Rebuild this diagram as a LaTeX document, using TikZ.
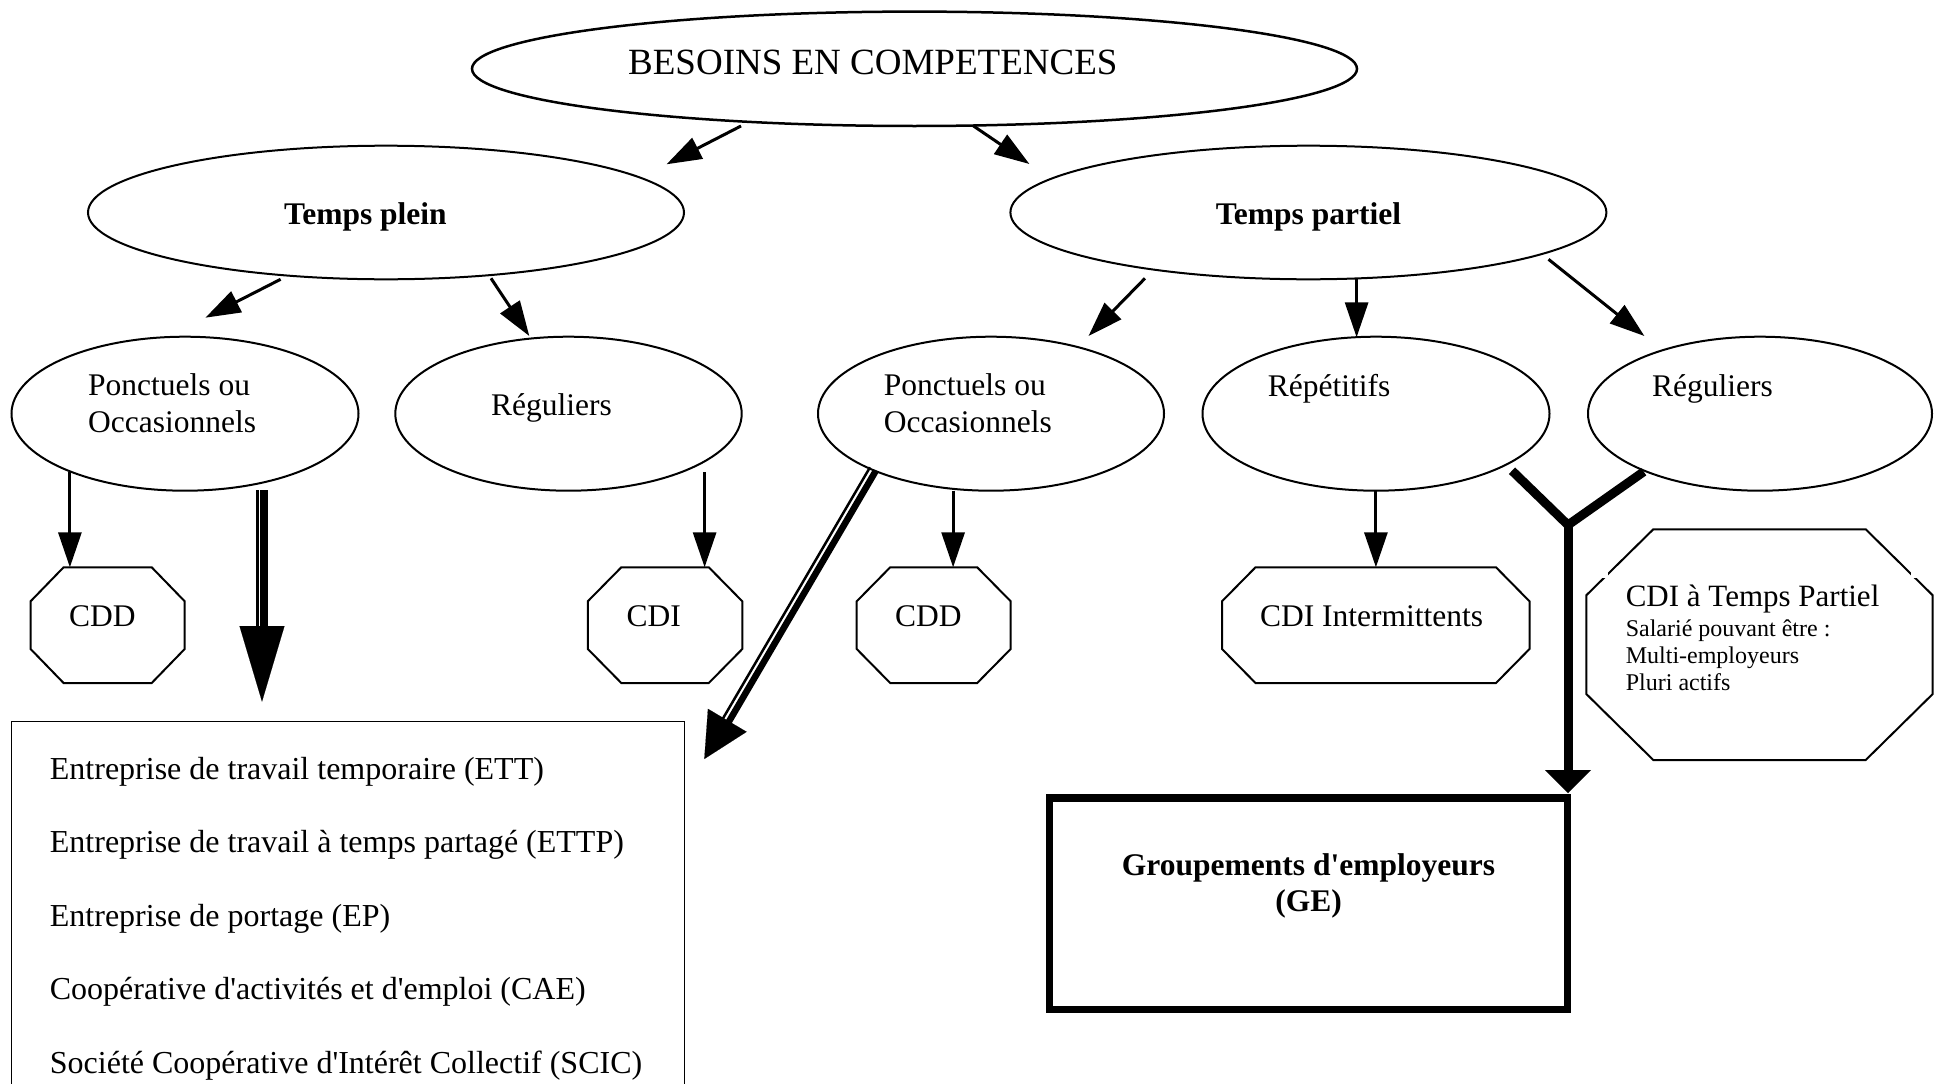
\documentclass[tikz,border=0pt]{standalone}
\usepackage{fontspec}
\setmainfont{Liberation Serif}[Ligatures=TeXOff]
\usetikzlibrary{shapes.geometric,arrows.meta,calc}
\newcommand\myoct[3]{\draw[octline] ($(#1.north west)+(#2,0)$) -- ($(#1.north east)+(-#2,0)$) -- ($(#1.north east)+(0,#3)$) -- ($(#1.south east)+(0,-#3)$) -- ($(#1.south east)+(-#2,0)$) -- ($(#1.south west)+(#2,0)$) -- ($(#1.south west)+(0,-#3)$) -- ($(#1.north west)+(0,#3)$) -- cycle;}
\begin{document}
\begin{tikzpicture}[x=1pt,y=-1pt,
  ell/.style={draw, ellipse, line width=2pt, inner sep=0pt, outer sep=0pt},
  octbox/.style={rectangle, inner sep=0pt, outer sep=0pt, minimum height=115.7pt},
  octline/.style={line width=2pt, line join=miter},
  txt/.style={anchor=base west, inner sep=0pt, font=\fontsize{31.5}{36}\selectfont},
  listtxt/.style={anchor=base west, inner sep=0pt, font=\fontsize{32}{37}\selectfont},
  smalltxt/.style={anchor=base west, inner sep=0pt, font=\fontsize{24}{27}\selectfont},
  boldtxt/.style={inner sep=0pt, font=\fontsize{31.5}{36}\selectfont\bfseries},
  arr/.style={line width=3pt, -{Triangle[length=35pt,width=23pt]}},
  thickpart/.style={line width=7.5pt},
  thinpart/.style={line width=2.5pt},
]
\useasboundingbox (0,0) rectangle (1946,1084);
\clip (0,0) rectangle (1946,1084);

% ellipses
\node[ell, line width=2.5pt, minimum width=885pt, minimum height=114.4pt] (top) at (914.5,68.8) {};
\node[ell, minimum width=596pt, minimum height=133.6pt] (plein) at (386,212.5) {};
\node[ell, minimum width=596pt, minimum height=133.6pt] (partiel) at (1308.4,212.5) {};
\node[ell, minimum width=347pt, minimum height=154pt] (ponc1) at (185,413.7) {};
\node[ell, minimum width=346.4pt, minimum height=154pt] (reg1) at (568.5,413.7) {};
\node[ell, minimum width=346pt, minimum height=154pt] (ponc2) at (991,413.7) {};
\node[ell, minimum width=347pt, minimum height=154pt] (rep) at (1376,413.7) {};
\node[ell, minimum width=344pt, minimum height=154pt] (reg2) at (1760,413.7) {};

% ellipse texts
\node[txt, font=\fontsize{37}{42}\selectfont] (topt) at (628,74) {BESOINS EN COMPETENCES};
\node[boldtxt, anchor=base west] (pleint) at (284,224) {Temps plein};
\node[boldtxt, anchor=base west] (partielt) at (1215.6,224) {Temps partiel};
\node[txt] (ponc1a) at (88,395) {Ponctuels ou};
\node[txt] (ponc1b) at (88,432) {Occasionnels};
\node[txt] (reg1t) at (491,415) {Réguliers};
\node[txt] (ponc2a) at (883.7,395) {Ponctuels ou};
\node[txt] (ponc2b) at (883.7,432) {Occasionnels};
\node[txt] (rept) at (1267.7,396) {Répétitifs};
\node[txt] (reg2t) at (1652,396) {Réguliers};

% octagons
\node[octbox, minimum width=154.1pt] (cdd1) at (107.65,625.15) {};
\node[octbox, minimum width=154.5pt] (cdi) at (665.05,625.15) {};
\node[octbox, minimum width=154pt] (cdd2) at (933.7,625.15) {};
\node[octbox, minimum width=307.5pt] (cdiint) at (1375.75,625.15) {};
\node[octbox, minimum width=346.4pt, minimum height=230.7pt] (cditp) at (1759.5,644.65) {};
\myoct{cdd1}{33}{34}
\myoct{cdi}{33.5}{34}
\myoct{cdd2}{33.5}{34}
\myoct{cdiint}{33.5}{34}
\myoct{cditp}{67}{66}
\fill[white] (1600,567.3) rectangle (1608,578);
\fill[white] (1911,567.3) rectangle (1919,578);

\node[txt] (cdd1t) at (69,626) {CDD};
\node[txt] (cdit) at (626.5,626) {CDI};
\node[txt] (cdd2t) at (895,626) {CDD};
\node[txt] (cdiintt) at (1259.8,626) {CDI Intermittents};
\node[txt, font=\fontsize{31}{36}\selectfont] (cditpt) at (1625.6,606) {CDI à Temps Partiel};
\node[smalltxt] (cditp1) at (1625.6,636) {Salarié pouvant être :};
\node[smalltxt] (cditp2) at (1625.6,663.3) {Multi-employeurs};
\node[smalltxt] (cditp3) at (1625.6,690) {Pluri actifs};

% list box
\node[draw, rectangle, line width=1.5pt, inner sep=0pt, outer sep=0pt, minimum width=672.8pt, minimum height=378.3pt] (list) at (347.9,910.85) {};
\node[listtxt] (l1) at (49.7,779) {Entreprise de travail temporaire (ETT)};
\node[listtxt] (l2) at (49.7,852.5) {Entreprise de travail à temps partagé (ETTP)};
\node[listtxt] (l3) at (49.7,926) {Entreprise de portage (EP)};
\node[listtxt] (l4) at (49.7,999.5) {Coopérative d'activités et d'emploi (CAE)};
\node[listtxt] (l5) at (49.7,1073) {Société Coopérative d'Intérêt Collectif (SCIC)};

% GE box
\node[draw, rectangle, line width=7.5pt, inner sep=0pt, outer sep=0pt, minimum width=518pt, minimum height=211.5pt] (ge) at (1308.5,903.75) {};
\node[boldtxt, anchor=base] (get1) at (1308.5,875) {Groupements d'employeurs};
\node[boldtxt, anchor=base] (get2) at (1308.7,911.7) {(GE)};

% thin arrows
\coordinate (as) at (741,126);      \coordinate (ae) at (666.5,164.3);
\coordinate (bs) at (973.5,126);    \coordinate (be) at (1029.4,164);
\coordinate (cs) at (280.6,279.3);  \coordinate (ce) at (205.4,317.7);
\coordinate (ds) at (491,278.3);    \coordinate (de) at (529.3,336);
\coordinate (es) at (1145,278.3);   \coordinate (ee) at (1088.5,336);
\coordinate (fs) at (1356.6,279.3); \coordinate (fe) at (1356.6,337.3);
\coordinate (gs) at (1548.5,259.3); \coordinate (ge2) at (1644.4,336);
\coordinate (hs) at (69.9,471.7);   \coordinate (he) at (69.9,567.3);
\coordinate (is) at (704.6,472.3);  \coordinate (ie) at (704.6,567.3);
\coordinate (js) at (953.1,490.7);  \coordinate (je) at (953.1,567.3);
\coordinate (ks) at (1375.9,490.7); \coordinate (ke) at (1375.9,567.3);
\draw[arr] (as) -- (ae);
\draw[arr] (bs) -- (be);
\draw[arr] (cs) -- (ce);
\draw[arr] (ds) -- (de);
\draw[arr] (es) -- (ee);
\draw[arr] (fs) -- (fe);
\draw[arr] (gs) -- (ge2);
\draw[arr] (hs) -- (he);
\draw[arr] (is) -- (ie);
\draw[arr] (js) -- (je);
\draw[arr] (ks) -- (ke);

% double arrow (vertical) from ponc1 to list
\coordinate (v1a) at (264.2,490);  \coordinate (v1b) at (264.2,632);
\coordinate (v2a) at (257.4,490);  \coordinate (v2b) at (257.4,632);
\coordinate (vh) at (262,620);     \coordinate (vt) at (262,701.7);
\draw[thickpart] (v1a) -- (v1b);
\draw[thinpart] (v2a) -- (v2b);
\draw[line width=0.1pt, -{Triangle[length=75.7pt,width=45pt]}] (vh) -- (vt);

% double arrow (diagonal) from ponc2 to list
\coordinate (d1a) at (875.9,470.7); \coordinate (d1b) at (726.5,725.7);
\coordinate (d2a) at (870.0,467.3); \coordinate (d2b) at (720.7,722.3);
\coordinate (dh) at (732.4,711.7);  \coordinate (dt) at (704.3,759);
\draw[line width=6.5pt] (d1a) -- (d1b);
\draw[thinpart] (d2a) -- (d2b);
\draw[line width=0.1pt, -{Triangle[length=45pt,width=45pt]}] (dh) -- (dt);

% Y connector to GE
\coordinate (ya) at (1512,470.7);
\coordinate (yb) at (1643.7,471.7);
\coordinate (yj) at (1568,525);
\coordinate (yt) at (1568,793.3);
\draw[line width=9pt, line join=miter] (ya) -- (yj) -- (yb);
\draw[line width=9pt, -{Triangle[length=23.3pt,width=44.6pt]}] (yj) -- (yt);
\end{tikzpicture}
\end{document}
